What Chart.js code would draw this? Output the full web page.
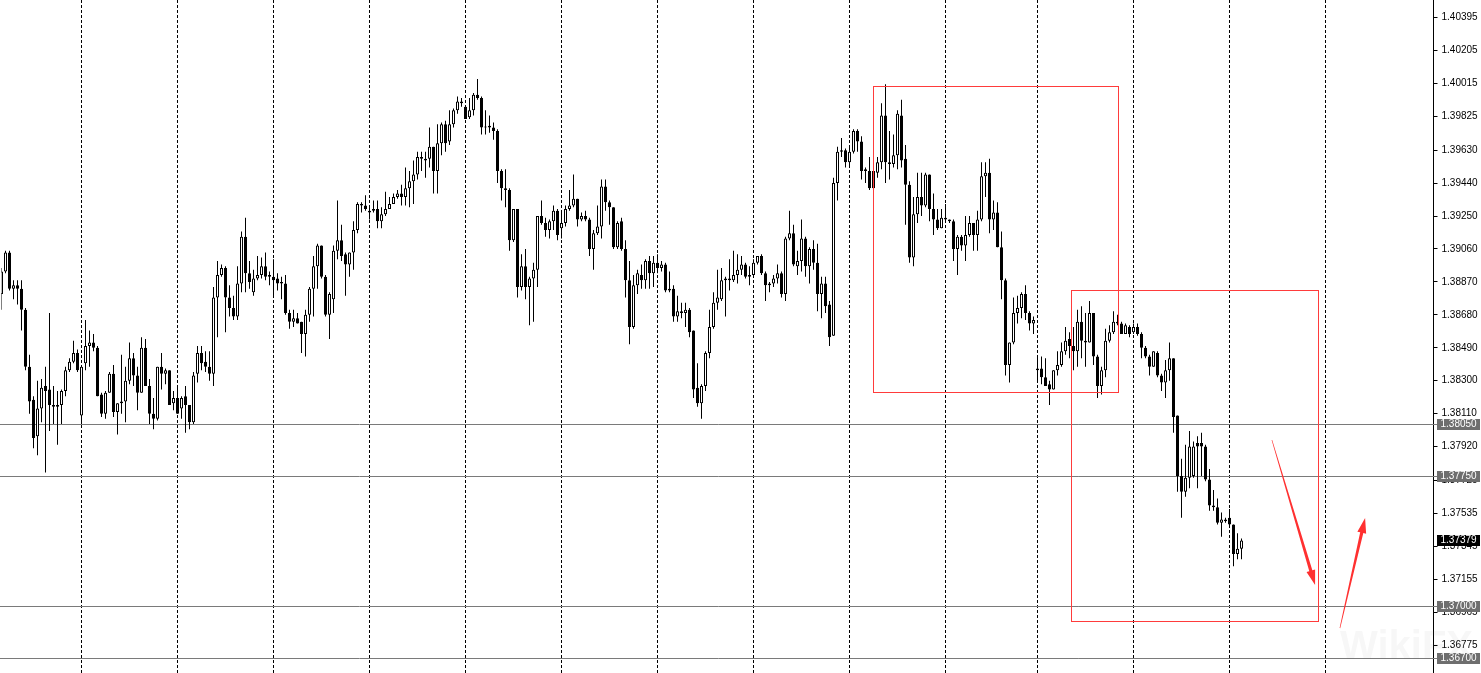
<!DOCTYPE html>
<html><head><meta charset="utf-8">
<script src="https://cdn.jsdelivr.net/npm/chart.js@4.4.1/dist/chart.umd.min.js"></script>
<style>html,body{margin:0;padding:0;background:#fff;overflow:hidden}</style>
</head><body>
<canvas id="c" width="1481" height="673"></canvas>
<script>
const opens = [
1.3880,1.3893,1.3904,1.3883,1.3885,1.3883,1.3871,1.3838,1.3819,1.3798,
1.3814,1.3827,1.3825,1.3816,1.3816,1.3816,1.3824,1.3836,1.3841,1.3846,
1.3810,1.3840,1.3850,1.3852,1.3849,1.3822,1.3811,1.3823,1.3834,1.3812,
1.3817,1.3818,1.3830,1.3843,1.3833,1.3823,1.3849,1.3827,1.3811,1.3808,
1.3838,1.3834,1.3836,1.3817,1.3820,1.3814,1.3821,1.3816,1.3806,1.3834,
1.3846,1.3841,1.3838,1.3834,1.3878,1.3891,1.3895,1.3878,1.3872,1.3867,
1.3886,1.3913,1.3892,1.3881,1.3889,1.3891,1.3896,1.3891,1.3890,1.3889,
1.3887,1.3886,1.3869,1.3864,1.3866,1.3864,1.3857,1.3868,1.3883,1.3896,
1.3908,1.3890,1.3868,1.3877,1.3905,1.3911,1.3903,1.3897,1.3904,1.3917,
1.3932,1.3931,1.3928,1.3929,1.3929,1.3922,1.3926,1.3929,1.3932,1.3936,
1.3938,1.3936,1.3941,1.3945,1.3949,1.3959,1.3958,1.3958,1.3965,1.3951,
1.3967,1.3978,1.3968,1.3978,1.3986,1.3990,1.3988,1.3982,1.3986,1.3995,
1.3993,1.3976,1.3977,1.3976,1.3974,1.3951,1.3941,1.3940,1.3911,1.3929,
1.3884,1.3896,1.3884,1.3889,1.3894,1.3925,1.3921,1.3917,1.3922,1.3928,
1.3918,1.3921,1.3929,1.3931,1.3935,1.3923,1.3925,1.3923,1.3906,1.3915,
1.3919,1.3942,1.3933,1.3930,1.3907,1.3922,1.3906,1.3888,1.3861,1.3885,
1.3891,1.3888,1.3899,1.3892,1.3898,1.3895,1.3897,1.3883,1.3883,1.3867,
1.3870,1.3869,1.3871,1.3859,1.3826,1.3817,1.3827,1.3846,1.3861,1.3875,
1.3877,1.3889,1.3889,1.3888,1.3891,1.3894,1.3897,1.3891,1.3891,1.3898,
1.3902,1.3892,1.3885,1.3886,1.3889,1.3892,1.3880,1.3912,1.3915,1.3896,
1.3899,1.3912,1.3896,1.3906,1.3898,1.3880,1.3886,1.3874,1.3856,1.3944,
1.3962,1.3963,1.3956,1.3962,1.3974,1.3968,1.3952,1.3951,1.3951,1.3950,
1.3956,1.3983,1.3956,1.3955,1.3960,1.3983,1.3958,1.3943,1.3901,1.3926,
1.3936,1.3931,1.3949,1.3929,1.3923,1.3918,1.3924,1.3923,1.3922,1.3906,
1.3913,1.3908,1.3914,1.3921,1.3914,1.3923,1.3948,1.3950,1.3923,1.3927,
1.3907,1.3888,1.3839,1.3852,1.3869,1.3872,1.3880,1.3869,1.3863,1.3837,
1.3837,1.3832,1.3828,1.3825,1.3836,1.3839,1.3847,1.3854,1.3850,1.3847,
1.3864,1.3853,1.3852,1.3869,1.3844,1.3827,1.3836,1.3853,1.3858,1.3864,
1.3863,1.3857,1.3861,1.3858,1.3861,1.3857,1.3849,1.3844,1.3838,1.3846,
1.3833,1.3829,1.3836,1.3843,1.3810,1.3775,1.3766,1.3774,1.3775,1.3794,
1.3794,1.3792,1.3773,1.3758,1.3757,1.3748,1.3750,1.3751,1.3747,1.3730,
1.3733];
const highs = [
1.3895,1.3905,1.3905,1.3888,1.3888,1.3888,1.3872,1.3845,1.3821,1.3830,
1.3831,1.3838,1.3869,1.3827,1.3824,1.3825,1.3838,1.3843,1.3853,1.3848,
1.3838,1.3865,1.3859,1.3857,1.3850,1.3823,1.3824,1.3835,1.3839,1.3817,
1.3845,1.3838,1.3852,1.3846,1.3838,1.3855,1.3854,1.3831,1.3820,1.3838,
1.3846,1.3837,1.3836,1.3824,1.3827,1.3821,1.3827,1.3816,1.3835,1.3850,
1.3850,1.3847,1.3847,1.3884,1.3899,1.3897,1.3896,1.3885,1.3879,1.3896,
1.3916,1.3924,1.3899,1.3894,1.3902,1.3901,1.3904,1.3893,1.3900,1.3892,
1.3890,1.3891,1.3871,1.3871,1.3869,1.3864,1.3871,1.3884,1.3902,1.3909,
1.3908,1.3891,1.3881,1.3908,1.3934,1.3920,1.3904,1.3904,1.3922,1.3933,
1.3933,1.3937,1.3931,1.3934,1.3934,1.3930,1.3939,1.3936,1.3938,1.3940,
1.3943,1.3953,1.3951,1.3957,1.3962,1.3962,1.3962,1.3976,1.3965,1.3978,
1.3979,1.3980,1.3986,1.3987,1.3994,1.3993,1.3988,1.3993,1.3996,1.4004,
1.3994,1.3986,1.3983,1.3979,1.3975,1.3952,1.3952,1.3941,1.3929,1.3929,
1.3903,1.3906,1.3890,1.3898,1.3925,1.3934,1.3924,1.3923,1.3931,1.3929,
1.3928,1.3931,1.3940,1.3949,1.3935,1.3927,1.3928,1.3924,1.3917,1.3931,
1.3946,1.3946,1.3934,1.3930,1.3922,1.3924,1.3911,1.3899,1.3891,1.3894,
1.3897,1.3900,1.3902,1.3902,1.3903,1.3899,1.3898,1.3893,1.3885,1.3879,
1.3875,1.3875,1.3872,1.3859,1.3840,1.3828,1.3847,1.3871,1.3881,1.3894,
1.3895,1.3890,1.3900,1.3905,1.3903,1.3902,1.3898,1.3896,1.3900,1.3902,
1.3903,1.3893,1.3887,1.3891,1.3897,1.3893,1.3913,1.3928,1.3920,1.3905,
1.3923,1.3913,1.3907,1.3911,1.3909,1.3890,1.3890,1.3876,1.3947,1.3965,
1.3970,1.3964,1.3965,1.3975,1.3975,1.3971,1.3953,1.3959,1.3956,1.3959,
1.3990,1.4001,1.3974,1.3972,1.3986,1.3992,1.3966,1.3945,1.3936,1.3950,
1.3950,1.3950,1.3949,1.3938,1.3929,1.3929,1.3932,1.3923,1.3923,1.3914,
1.3914,1.3925,1.3925,1.3921,1.3928,1.3956,1.3956,1.3958,1.3934,1.3933,
1.3916,1.3889,1.3852,1.3878,1.3879,1.3881,1.3885,1.3870,1.3867,1.3844,
1.3844,1.3843,1.3830,1.3836,1.3847,1.3852,1.3861,1.3858,1.3861,1.3871,
1.3873,1.3869,1.3876,1.3869,1.3845,1.3838,1.3860,1.3862,1.3870,1.3868,
1.3864,1.3863,1.3862,1.3863,1.3863,1.3858,1.3850,1.3845,1.3847,1.3847,
1.3834,1.3842,1.3852,1.3843,1.3810,1.3785,1.3793,1.3801,1.3795,1.3798,
1.3800,1.3793,1.3779,1.3767,1.3762,1.3754,1.3751,1.3756,1.3747,1.3742,
1.3739];
const lows = [
1.3871,1.3892,1.3882,1.3877,1.3874,1.3859,1.3836,1.3811,1.3791,1.3787,
1.3806,1.3777,1.3801,1.3805,1.3793,1.3805,1.3821,1.3835,1.3840,1.3835,
1.3805,1.3836,1.3838,1.3847,1.3821,1.3809,1.3808,1.3823,1.3809,1.3799,
1.3811,1.3806,1.3828,1.3827,1.3813,1.3823,1.3827,1.3805,1.3802,1.3807,
1.3825,1.3828,1.3816,1.3813,1.3811,1.3808,1.3800,1.3802,1.3805,1.3829,
1.3836,1.3835,1.3830,1.3827,1.3855,1.3890,1.3858,1.3867,1.3865,1.3865,
1.3881,1.3881,1.3883,1.3879,1.3888,1.3889,1.3888,1.3885,1.3878,1.3882,
1.3877,1.3868,1.3860,1.3861,1.3863,1.3846,1.3844,1.3864,1.3867,1.3883,
1.3889,1.3867,1.3854,1.3869,1.3900,1.3899,1.3879,1.3890,1.3894,1.3915,
1.3927,1.3928,1.3923,1.3927,1.3918,1.3918,1.3925,1.3929,1.3932,1.3935,
1.3931,1.3931,1.3930,1.3932,1.3946,1.3951,1.3947,1.3953,1.3938,1.3938,
1.3960,1.3962,1.3966,1.3976,1.3984,1.3988,1.3981,1.3981,1.3983,1.3992,
1.3972,1.3972,1.3973,1.3969,1.3944,1.3934,1.3930,1.3905,1.3910,1.3878,
1.3882,1.3877,1.3862,1.3864,1.3884,1.3920,1.3913,1.3912,1.3917,1.3911,
1.3912,1.3919,1.3928,1.3930,1.3919,1.3922,1.3922,1.3902,1.3894,1.3914,
1.3912,1.3928,1.3920,1.3906,1.3906,1.3905,1.3878,1.3851,1.3860,1.3880,
1.3883,1.3883,1.3883,1.3884,1.3892,1.3893,1.3881,1.3881,1.3864,1.3864,
1.3866,1.3861,1.3855,1.3820,1.3815,1.3808,1.3824,1.3843,1.3860,1.3871,
1.3876,1.3867,1.3882,1.3887,1.3886,1.3891,1.3889,1.3885,1.3890,1.3897,
1.3891,1.3876,1.3881,1.3884,1.3886,1.3878,1.3876,1.3911,1.3896,1.3891,
1.3893,1.3890,1.3886,1.3894,1.3870,1.3866,1.3869,1.3850,1.3856,1.3934,
1.3959,1.3953,1.3953,1.3961,1.3962,1.3946,1.3944,1.3940,1.3941,1.3947,
1.3952,1.3944,1.3946,1.3953,1.3952,1.3953,1.3920,1.3898,1.3896,1.3921,
1.3925,1.3930,1.3922,1.3914,1.3917,1.3918,1.3922,1.3921,1.3899,1.3891,
1.3905,1.3899,1.3913,1.3905,1.3905,1.3922,1.3936,1.3915,1.3917,1.3907,
1.3877,1.3833,1.3829,1.3851,1.3863,1.3866,1.3865,1.3859,1.3857,1.3829,
1.3828,1.3827,1.3816,1.3825,1.3833,1.3838,1.3845,1.3843,1.3836,1.3838,
1.3843,1.3838,1.3852,1.3839,1.3820,1.3822,1.3832,1.3852,1.3857,1.3862,
1.3857,1.3857,1.3855,1.3857,1.3856,1.3843,1.3843,1.3833,1.3838,1.3832,
1.3824,1.3820,1.3830,1.3800,1.3766,1.3751,1.3763,1.3768,1.3774,1.3768,
1.3775,1.3772,1.3755,1.3755,1.3747,1.3740,1.3748,1.3746,1.3723,1.3727,
1.3727];
const closes = [
1.3893,1.3904,1.3883,1.3885,1.3883,1.3871,1.3838,1.3818,1.3797,1.3814,
1.3826,1.3824,1.3816,1.3815,1.3815,1.3824,1.3836,1.3841,1.3846,1.3836,
1.3838,1.3850,1.3852,1.3849,1.3821,1.3811,1.3823,1.3834,1.3812,1.3817,
1.3818,1.3830,1.3843,1.3833,1.3823,1.3849,1.3827,1.3811,1.3808,1.3838,
1.3834,1.3836,1.3816,1.3820,1.3811,1.3820,1.3816,1.3806,1.3833,1.3846,
1.3840,1.3838,1.3834,1.3878,1.3891,1.3895,1.3878,1.3872,1.3867,1.3886,
1.3913,1.3892,1.3887,1.3889,1.3891,1.3896,1.3890,1.3890,1.3888,1.3886,
1.3886,1.3869,1.3864,1.3866,1.3863,1.3857,1.3868,1.3883,1.3896,1.3908,
1.3890,1.3868,1.3880,1.3905,1.3911,1.3902,1.3897,1.3904,1.3917,1.3932,
1.3931,1.3929,1.3927,1.3928,1.3922,1.3926,1.3929,1.3932,1.3936,1.3938,
1.3936,1.3941,1.3945,1.3949,1.3959,1.3958,1.3957,1.3965,1.3951,1.3967,
1.3978,1.3967,1.3978,1.3986,1.3991,1.3991,1.3981,1.3986,1.3995,1.3993,
1.3976,1.3976,1.3976,1.3974,1.3951,1.3941,1.3940,1.3911,1.3929,1.3884,
1.3896,1.3884,1.3889,1.3894,1.3925,1.3921,1.3917,1.3922,1.3928,1.3914,
1.3921,1.3929,1.3931,1.3935,1.3923,1.3925,1.3923,1.3906,1.3915,1.3919,
1.3942,1.3933,1.3930,1.3907,1.3921,1.3906,1.3888,1.3861,1.3885,1.3892,
1.3888,1.3899,1.3892,1.3898,1.3895,1.3897,1.3882,1.3882,1.3867,1.3870,
1.3869,1.3871,1.3858,1.3825,1.3817,1.3827,1.3846,1.3861,1.3875,1.3878,
1.3888,1.3888,1.3888,1.3891,1.3894,1.3897,1.3890,1.3890,1.3898,1.3902,
1.3892,1.3885,1.3886,1.3889,1.3892,1.3880,1.3912,1.3915,1.3897,1.3899,
1.3912,1.3896,1.3906,1.3898,1.3880,1.3886,1.3873,1.3855,1.3944,1.3962,
1.3963,1.3956,1.3962,1.3974,1.3968,1.3951,1.3951,1.3941,1.3941,1.3956,
1.3983,1.3956,1.3955,1.3960,1.3984,1.3957,1.3943,1.3901,1.3926,1.3936,
1.3931,1.3949,1.3929,1.3923,1.3918,1.3924,1.3923,1.3922,1.3906,1.3913,
1.3908,1.3914,1.3921,1.3914,1.3923,1.3948,1.3950,1.3923,1.3927,1.3907,
1.3888,1.3839,1.3852,1.3869,1.3872,1.3880,1.3869,1.3863,1.3865,1.3836,
1.3832,1.3827,1.3825,1.3836,1.3839,1.3847,1.3853,1.3850,1.3847,1.3864,
1.3853,1.3852,1.3869,1.3844,1.3827,1.3836,1.3853,1.3858,1.3864,1.3863,
1.3857,1.3862,1.3857,1.3861,1.3857,1.3849,1.3844,1.3838,1.3847,1.3833,
1.3829,1.3836,1.3843,1.3809,1.3775,1.3766,1.3774,1.3792,1.3792,1.3792,
1.3792,1.3773,1.3758,1.3757,1.3748,1.3750,1.3749,1.3747,1.3730,1.3733,
1.37379];

const slotCount = 359;                       // bar slots incl. empty future space
const barLabels = Array.from({length: slotCount}, (_, i) => String(i));
const daySeparators = [20,44,68,92,116,140,164,188,212,236,259,283,307,331];
const tickValues = [1.40395,1.40205,1.40015,1.39825,1.39630,1.39440,1.39250,1.39060,1.38870,1.38680,
                    1.38490,1.38300,1.38110,1.37920,1.37725,1.37535,1.37345,1.37155,1.36965,1.36775];
const levelLines = [1.38050,1.37750,1.37000,1.36700];
const lastPrice = 1.37379;
const priceMin = 1.36614, priceMax = 1.40496;
// red rectangles: [fromBar, toBar, topPrice, bottomPrice]
const boxes = [[217.9,279.1,1.40000,1.38235],[267.4,329.1,1.38823,1.36913]];
// red arrows: [fromBar, fromPrice, toBar, toPrice]
const arrows = [[317.6,1.37958,328.4,1.37121],[334.6,1.36873,340.9,1.37508]];

const wickData = lows.map((l, i) => [l, highs[i]]);
const bodyData = opens.map((o, i) => [o, closes[i]]);
const isUp = i => closes[i] >= opens[i];

function drawArrow(ctx, x1, y1, x2, y2, w0, w1, headLen, headW) {
  const dx = x2 - x1, dy = y2 - y1, len = Math.hypot(dx, dy);
  const ux = dx / len, uy = dy / len, nx = -uy, ny = ux;
  const bx = x2 - ux * headLen, by = y2 - uy * headLen;
  ctx.beginPath();
  ctx.moveTo(x1 + nx * w0 / 2, y1 + ny * w0 / 2);
  ctx.lineTo(bx + nx * w1 / 2, by + ny * w1 / 2);
  ctx.lineTo(bx + nx * headW / 2, by + ny * headW / 2);
  ctx.lineTo(x2, y2);
  ctx.lineTo(bx - nx * headW / 2, by - ny * headW / 2);
  ctx.lineTo(bx - nx * w1 / 2, by - ny * w1 / 2);
  ctx.lineTo(x1 - nx * w0 / 2, y1 - ny * w0 / 2);
  ctx.closePath();
  ctx.fill();
}

const overlay = {
  id: 'overlay',
  beforeDatasetsDraw(chart) {
    const {ctx, chartArea, scales: {x, y}} = chart;
    ctx.save();
    ctx.strokeStyle = '#000'; ctx.lineWidth = 1; ctx.setLineDash([3, 2]);
    daySeparators.forEach(i => {
      const px = Math.round(x.getPixelForValue(i) - 0.5) + 0.5;
      ctx.beginPath(); ctx.moveTo(px, 0); ctx.lineTo(px, chart.height); ctx.stroke();
    });
    ctx.setLineDash([]);
    ctx.strokeStyle = '#7a7a7a';
    levelLines.forEach(v => {
      const py = Math.round(y.getPixelForValue(v) - 0.5) + 0.5;
      ctx.beginPath(); ctx.moveTo(0, py); ctx.lineTo(chartArea.right + 4, py); ctx.stroke();
    });
    ctx.restore();
  },
  afterDatasetsDraw(chart) {
    const {ctx, scales: {x, y}} = chart;
    ctx.save();
    ctx.strokeStyle = '#ff3b3b'; ctx.lineWidth = 1;
    boxes.forEach(([b0, b1, p0, p1]) => {
      const x0 = Math.round(x.getPixelForValue(b0)) + 0.5, x1 = Math.round(x.getPixelForValue(b1)) + 0.5;
      const y0 = Math.round(y.getPixelForValue(p0)) + 0.5, y1 = Math.round(y.getPixelForValue(p1)) + 0.5;
      ctx.strokeRect(x0, y0, x1 - x0, y1 - y0);
    });
    ctx.fillStyle = '#ff3030';
    arrows.forEach(([b0, p0, b1, p1]) => {
      drawArrow(ctx, x.getPixelForValue(b0), y.getPixelForValue(p0), x.getPixelForValue(b1), y.getPixelForValue(p1), 0.6, 3.2, 15, 9);
    });
    ctx.restore();
  },
  afterDraw(chart) {
    const {ctx, chartArea, scales: {y}} = chart;
    ctx.save();
    ctx.fillStyle = 'rgba(120,120,120,0.06)';
    ctx.font = 'bold 40px "Liberation Sans"';
    ctx.textBaseline = 'middle';
    ctx.fillText('WikiFX', 1340, 648);
    ctx.font = '10px "Liberation Sans"';
    const left = Math.round(chartArea.right + 3.5);
    const tag = (v, bg) => {
      const py = Math.round(y.getPixelForValue(v));
      ctx.fillStyle = bg; ctx.fillRect(left, py - 5, 43, 11);
      ctx.fillStyle = '#fff'; ctx.fillText(v.toFixed(5), left + 3.5, py + 0.5);
    };
    levelLines.forEach(v => tag(v, '#6e6e6e'));
    tag(lastPrice, '#000');
    ctx.restore();
  }
};

new Chart(document.getElementById('c'), {
  type: 'bar',
  data: {
    labels: barLabels,
    datasets: [
      {
        label: 'body', data: bodyData, order: 0, grouped: false,
        barThickness: 3, minBarLength: 1, inflateAmount: 0,
        borderWidth: 1, borderSkipped: false, borderColor: '#000',
        backgroundColor: c => isUp(c.dataIndex) ? '#fff' : '#000'
      },
      {
        label: 'wick', data: wickData, order: 1, grouped: false,
        barThickness: 1, inflateAmount: 0, borderWidth: 0,
        backgroundColor: '#000'
      }
    ]
  },
  options: {
    responsive: false, animation: false, devicePixelRatio: 1,
    layout: {padding: {left: 1.5, right: 0, top: 0, bottom: 0}},
    plugins: {legend: {display: false}, tooltip: {enabled: false}},
    events: [],
    scales: {
      x: {type: 'category', offset: false, display: false},
      y: {
        type: 'linear', position: 'right', min: priceMin, max: priceMax,
        afterFit: s => { s.width = 47.5; s.paddingTop = 0; s.paddingBottom = 0; },
        afterBuildTicks: s => { s.ticks = tickValues.map(v => ({value: v})); },
        border: {display: true, color: '#000', width: 1},
        grid: {drawOnChartArea: false, drawTicks: true, tickLength: 4, tickColor: '#000'},
        ticks: {
          autoSkip: false, padding: 4, color: '#000',
          font: {family: 'Liberation Sans', size: 10},
          callback: v => Number(v).toFixed(5)
        }
      }
    }
  },
  plugins: [overlay]
});
</script>
</body></html>
